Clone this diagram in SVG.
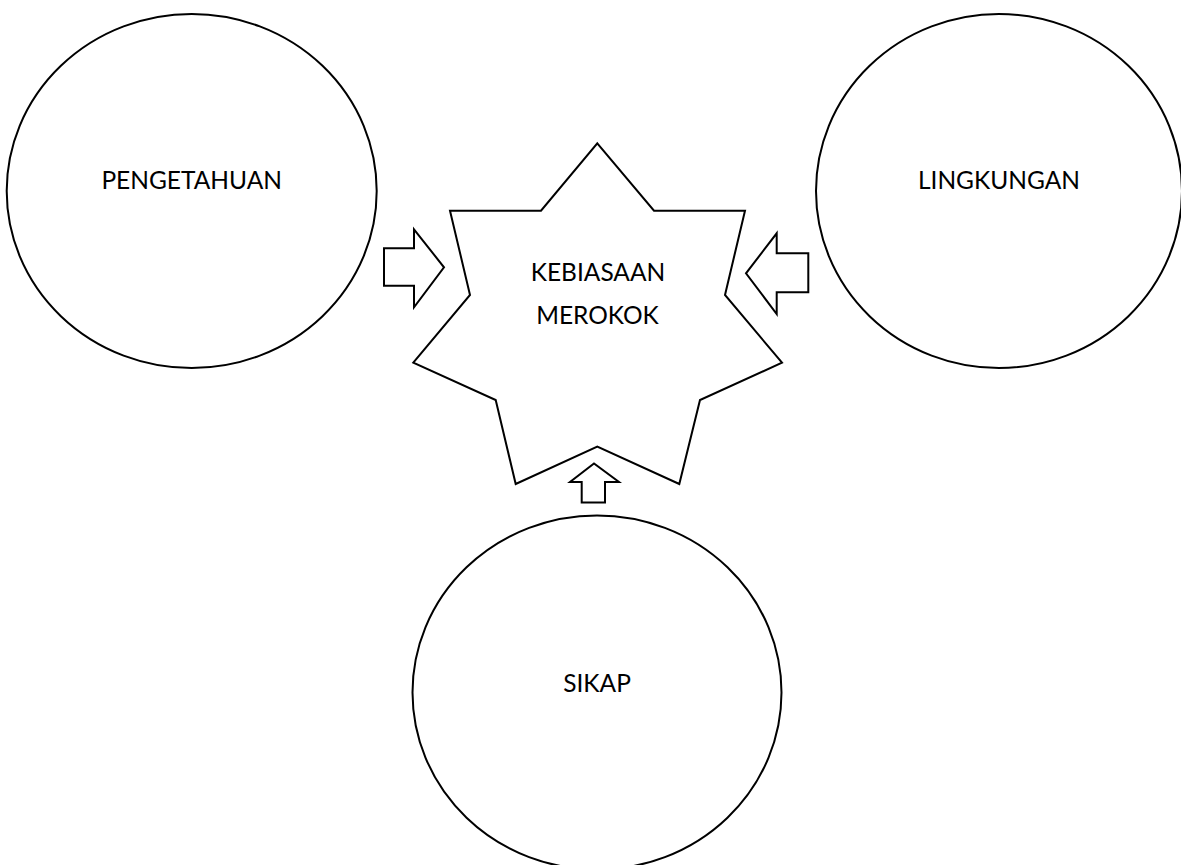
<svg xmlns="http://www.w3.org/2000/svg" width="1181" height="865" viewBox="0 0 1181 865">
<style>
.shape{fill:#ffffff;stroke:#000000;stroke-width:2;stroke-linejoin:miter}
.circ{fill:#ffffff;stroke:#000000;stroke-width:2}
.lbl{font-family:Lato,"Open Sans","Liberation Sans",sans-serif;font-size:24.5px;fill:#000000;text-anchor:middle}
</style>
<rect width="1181" height="865" fill="#ffffff"/>
<g id="pengetahuan">
<ellipse class="circ" cx="191.7" cy="191" rx="185" ry="177"/>
<text class="lbl" x="191.7" y="189">PENGETAHUAN</text>
</g>
<g id="lingkungan">
<ellipse class="circ" cx="999" cy="191" rx="183" ry="177"/>
<text class="lbl" x="999" y="189">LINGKUNGAN</text>
</g>
<g id="sikap">
<ellipse class="circ" cx="597" cy="692.5" rx="184.5" ry="177"/>
<text class="lbl" x="597" y="691.5">SIKAP</text>
</g>
<g id="kebiasaan-merokok">
<polygon class="shape" points="597.3,143.3 654,210.7 745,210.7 725,295 782,362.7 700,400 679.3,484 597.3,446.7 515.7,484 495.7,400 413.3,362.7 470,295 450,210.7 541,210.7"/>
<text class="lbl" x="598" y="281">KEBIASAAN</text>
<text class="lbl" x="597.5" y="324">MEROKOK</text>
</g>
<g id="connectors">
<polygon class="shape" points="384,248.3 414,248.3 414,229.3 444,267.3 414,307.3 414,285.7 384,285.7"/>
<polygon class="shape" points="808.3,253.3 776.7,253.3 776.7,233.3 746,273.3 776.7,314 776.7,292.3 808.3,292.3"/>
<polygon class="shape" points="581.7,502.5 581.7,482 570,482 594,463.5 619,482 605,482 605,502.5"/>
</g>
</svg>
